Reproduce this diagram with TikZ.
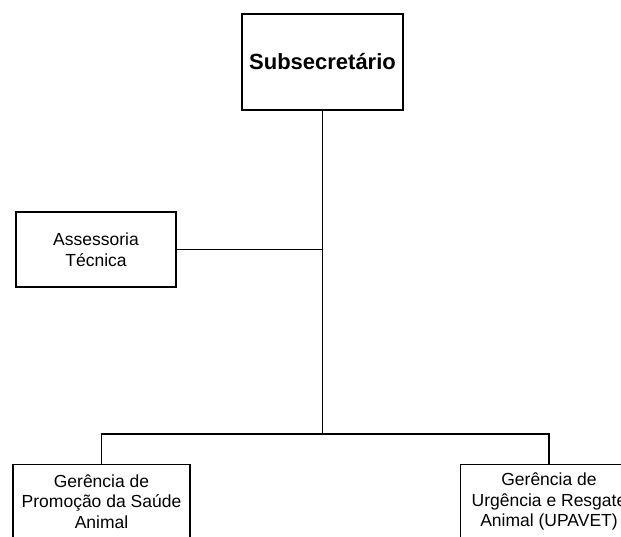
\documentclass[tikz,border=0pt]{standalone}
\usepackage{fontspec}
\setmainfont{Liberation Sans}
\begin{document}
\begin{tikzpicture}[x=1pt,y=-1pt,
  box/.style={draw=black,line width=1.2pt,rectangle,inner sep=0pt,align=center,
    font=\fontsize{17.5}{20.5}\selectfont},
  conn/.style={draw=black,line width=1.3pt}]
\useasboundingbox (0,0) rectangle (621,536);
\clip (0,0) rectangle (621,536);
\fill[white] (0,0) rectangle (621,536);
\node[box,minimum width=161pt,minimum height=96pt,font=\fontsize{22}{26}\selectfont\bfseries] (top) at (322.5,62) {Subsecretário};
\node[box,minimum width=160pt,minimum height=75pt] (ass) at (96,249.5) {Assessoria\\Técnica};
\node[box,minimum width=177pt,minimum height=74pt,anchor=north] (left) at (101.5,464) {Gerência de\\Promoção da Saúde\\Animal};
\node[box,minimum width=177pt,minimum height=74pt,anchor=north] (right) at (549,464) {Gerência de\\Urgência e Resgate\\Animal (UPAVET)};
\coordinate (j) at (top.south |- 0,434);
\draw[conn] (top.south) -- (j);
\draw[conn] (ass.east) -- (ass.east -| top.south);
\draw[conn] (left.north) -- (left.north |- j) -- (right.north |- j) -- (right.north);
\end{tikzpicture}
\end{document}
